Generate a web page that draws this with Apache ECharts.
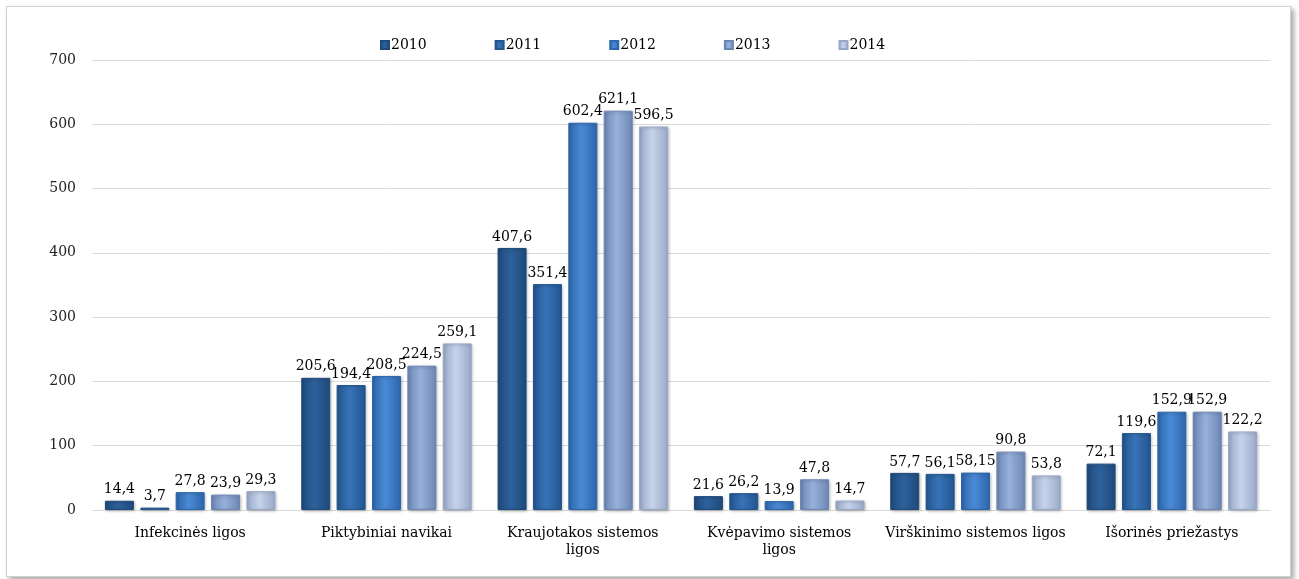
<!DOCTYPE html>
<html>
<head>
<meta charset="utf-8">
<script src="https://cdn.jsdelivr.net/npm/echarts@6/dist/echarts.min.js"></script>
<style>
  html, body { margin: 0; padding: 0; background: #fff; }
  #frame {
    position: absolute; left: 6px; top: 6px; width: 1283px; height: 569px;
    border: 1px solid #d0d0d0; box-shadow: 3px 3px 5px #a8a8a8; background: #fff;
  }
  #chart { width: 1283px; height: 569px; }
</style>
</head>
<body>
<div id="frame"><div id="chart"></div></div>
<script>
var categories = ['Infekcinės ligos', 'Piktybiniai navikai', 'Kraujotakos sistemos\nligos',
  'Kvėpavimo sistemos\nligos', 'Virškinimo sistemos ligos', 'Išorinės priežastys'];
var years = ['2010', '2011', '2012', '2013', '2014'];
var v2010 = [14.4, 205.6, 407.6, 21.6, 57.7, 72.1];
var v2011 = [3.7, 194.4, 351.4, 26.2, 56.1, 119.6];
var v2012 = [27.8, 208.5, 602.4, 13.9, 58.15, 152.9];
var v2013 = [23.9, 224.5, 621.1, 47.8, 90.8, 152.9];
var v2014 = [29.3, 259.1, 596.5, 14.7, 53.8, 122.2];
var yTicks = [0, 100, 200, 300, 400, 500, 600, 700];

// colour pairs: edge, centre
var palette = [
  ['#1f4a7a', '#2d619c'],
  ['#23558f', '#3873b8'],
  ['#2d66aa', '#4a8ad6'],
  ['#6c86b4', '#98b0da'],
  ['#98a9c8', '#c6d3ea']
];
var seriesData = [v2010, v2011, v2012, v2013, v2014];
var font = '"DejaVu Serif", "Liberation Serif", serif';

function grad(c) {
  return new echarts.graphic.LinearGradient(0, 0, 1, 0, [
    { offset: 0, color: c[0] },
    { offset: 0.45, color: c[1] },
    { offset: 1, color: c[0] }
  ]);
}

var chart = echarts.init(document.getElementById('chart'));
chart.setOption({
  animation: false,
  legend: {
    top: 26, left: 368,
    itemWidth: 8, itemHeight: 8, itemGap: 68,
    icon: 'rect',
    textStyle: { fontFamily: font, fontSize: 14, color: '#000', padding: [0, 0, 0, -3] },
    data: years
  },
  grid: { left: 85, right: 20, top: 53, bottom: 66 },
  xAxis: {
    type: 'category', data: categories,
    axisLine: { lineStyle: { color: '#d9d9d9', width: 1 } },
    axisTick: { show: false },
    axisLabel: { interval: 0, fontFamily: font, fontSize: 14, color: '#000', margin: 15, lineHeight: 17 }
  },
  yAxis: {
    type: 'value', min: yTicks[0], max: yTicks[yTicks.length - 1], interval: 100,
    axisLine: { show: false }, axisTick: { show: false },
    splitLine: { lineStyle: { color: '#d9d9d9' } },
    axisLabel: { fontFamily: font, fontSize: 14, color: '#222', margin: 16 }
  },
  series: years.map(function (y, i) {
    return {
      name: y, type: 'bar', data: seriesData[i],
      barWidth: 29, barGap: '22%',
      itemStyle: {
        color: grad(palette[i]),
        borderColor: palette[i][0], borderWidth: 1,
        shadowColor: 'rgba(0,0,0,0.25)', shadowBlur: 3, shadowOffsetX: 1, shadowOffsetY: 1
      },
      label: {
        show: true, position: 'top', distance: 4,
        fontFamily: font, fontSize: 14, color: '#000',
        formatter: function (p) { return String(p.value).replace('.', ','); }
      }
    };
  })
});
</script>
</body>
</html>
